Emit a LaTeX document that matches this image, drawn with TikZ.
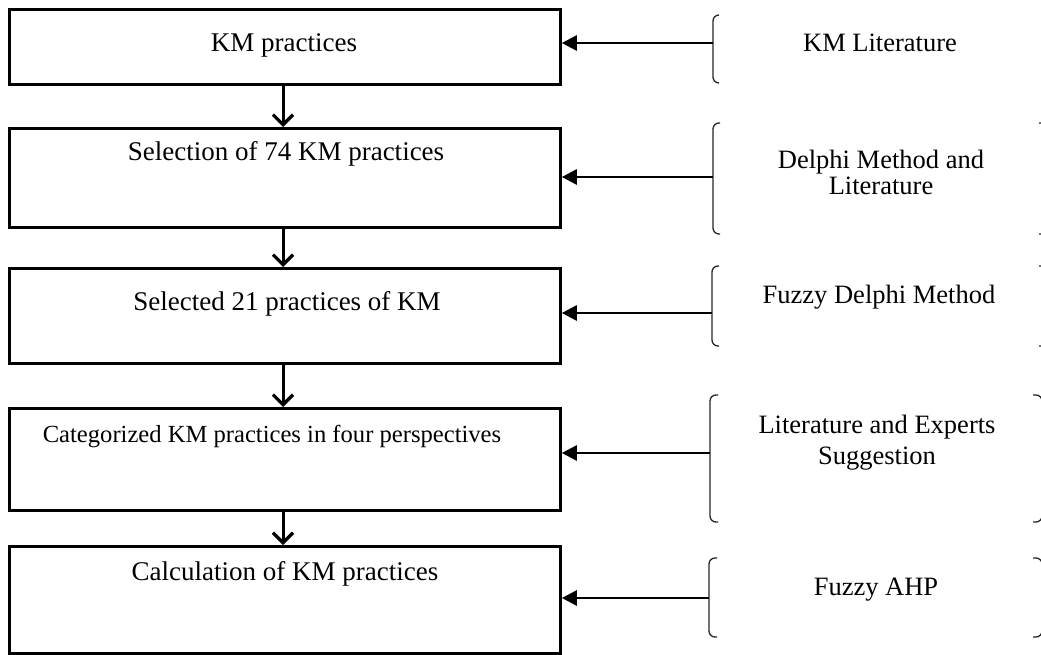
\documentclass[tikz,border=0pt]{standalone}
\usepackage{fontspec}
\setmainfont{Liberation Serif}
\usetikzlibrary{arrows.meta}
\begin{document}
\begin{tikzpicture}[x=1pt,y=-1pt,
  box/.style={draw=black,line width=2.8pt,minimum width=551pt,inner sep=0pt,anchor=north west},
  lbl/.style={anchor=base,inner sep=0pt,font=\fontsize{27}{22}\selectfont},
  rlbl/.style={anchor=base,inner sep=0pt,font=\fontsize{26.5}{22}\selectfont,align=center},
  varrow/.style={line width=3pt,-{Straight Barb[length=10pt,width=20pt,line width=3.2pt]}},
  harrow/.style={line width=2.6pt,-{Triangle[length=15pt,width=15pt]}},
  brk/.style={line width=1.3pt,draw=black!85,rounded corners=6pt}]
\useasboundingbox (0,0) rectangle (1041,655);
% boxes
\node[box,minimum height=75pt]  (b1) at (8,8) {};
\node[box,minimum height=99pt]  (b2) at (8,127) {};
\node[box,minimum height=95pt]  (b3) at (8,267) {};
\node[box,minimum height=102pt] (b4) at (8,407) {};
\node[box,minimum height=107pt] (b5) at (8,545) {};
% box texts
\node[lbl] (t1) at (284,52) {KM practices};
\node[lbl] (t2) at (286,161) {Selection of 74 KM practices};
\node[lbl] (t3) at (287,310) {Selected 21 practices of KM};
\node[lbl,font=\fontsize{24.6}{22}\selectfont] (t4) at (272,442) {Categorized KM practices in four perspectives};
\node[lbl] (t5) at (285,580) {Calculation of KM practices};
% vertical arrows
\draw[varrow] (b1.south -| 283,0) -- (b2.north -| 283,0);
\draw[varrow] (b2.south -| 283,0) -- (b3.north -| 283,0);
\draw[varrow] (b3.south -| 283,0) -- (b4.north -| 283,0);
\draw[varrow] (b4.south -| 283,0) -- (b5.north -| 283,0);
% right labels
\node[rlbl] (r1) at (880,52) {KM Literature};
\node[rlbl] (r2a) at (881,169) {Delphi Method and};
\node[rlbl] (r2b) at (881,195) {Literature};
\node[rlbl] (r3) at (879,303) {Fuzzy Delphi Method};
\node[rlbl] (r4a) at (877,433) {Literature and Experts};
\node[rlbl] (r4b) at (877,464) {Suggestion};
\node[rlbl] (r5) at (876,595) {Fuzzy AHP};
% brackets (left)
\draw[brk] (719,15) -- (713,15) -- (713,83) -- (719,83);
\draw[brk] (720,123) -- (713,123) -- (713,234) -- (720,234);
\draw[brk] (719,266) -- (712,266) -- (712,346) -- (719,346);
\draw[brk] (718,395) -- (710,395) -- (710,522) -- (718,522);
\draw[brk] (717,558) -- (709,558) -- (709,637) -- (717,637);
% bracket anchor coordinates
\coordinate (k1) at (713,43);
\coordinate (k2) at (713,177);
\coordinate (k3) at (712,313);
\coordinate (k4) at (710,453);
\coordinate (k5) at (709,598);
% horizontal arrows
\draw[harrow] (k1) -- (k1 -| b1.east);
\draw[harrow] (k2) -- (k2 -| b2.east);
\draw[harrow] (k3) -- (k3 -| b3.east);
\draw[harrow] (k4) -- (k4 -| b4.east);
\draw[harrow] (k5) -- (k5 -| b5.east);
% right brackets, cut by the edge
\begin{scope}
\clip (0,0) rectangle (1041,655);
\draw[brk] (1039,123) -- (1047,123) -- (1047,234) -- (1039,234);
\draw[brk] (1039,266) -- (1047,266) -- (1047,346) -- (1039,346);
\draw[brk] (1033,395) -- (1042,395) -- (1042,522) -- (1033,522);
\draw[brk] (1033,558) -- (1042,558) -- (1042,637) -- (1033,637);
\end{scope}
\end{tikzpicture}
\end{document}
